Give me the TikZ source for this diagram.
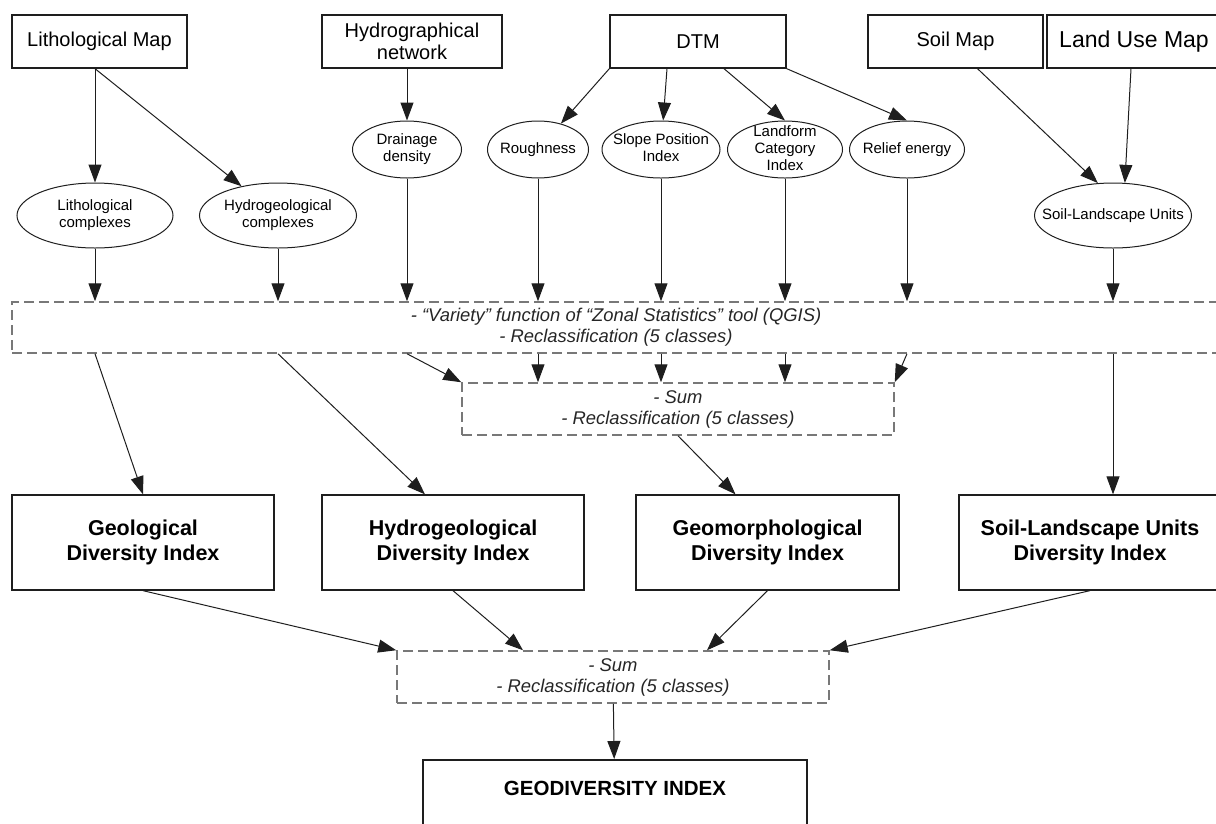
\documentclass[tikz,border=0pt]{standalone}
\usepackage{fontspec}
\setmainfont{Liberation Sans}
\usepackage{tikz}
\usetikzlibrary{shapes.geometric,arrows.meta,calc}
\usepackage{xcolor}
\definecolor{dashgray}{RGB}{120,120,120}
\definecolor{boxline}{RGB}{30,30,30}
\newcommand{\elltext}[1]{\makebox[0pt]{\raisebox{-.25em}[0pt][0pt]{\begin{tabular}{@{}c@{}}#1\end{tabular}}}}

\begin{document}
\begin{tikzpicture}[x=1pt,y=-1pt,
  mapbox/.style={draw=boxline, line width=1.3pt, minimum height=53pt, inner sep=0pt, align=center, font=\fontsize{20}{22}\selectfont},
  layer/.style={ellipse, draw=boxline, line width=1pt, inner sep=0pt, minimum height=57pt, font=\fontsize{15}{17}\selectfont},
  stepnote/.style={draw=dashgray, line width=1.5pt, dash pattern=on 10pt off 5pt, inner sep=0pt, align=center, text=black!85, font=\itshape\fontsize{18.4}{21}\selectfont},
  indexbox/.style={draw=boxline, line width=1.3pt, minimum height=95pt, minimum width=262pt, inner sep=0pt, align=center, font=\bfseries\fontsize{21.5}{25}\selectfont},
  arr/.style={-{Triangle[length=18pt,width=13pt]}, line width=1pt, draw=boxline}]
  \useasboundingbox (0,0) rectangle (1216,823);
  \clip (0,0) rectangle (1216,823);

  % Input maps
  \node[mapbox, minimum width=175pt] (lith) at (99.5,41.5) {Lithological Map};
  \node[mapbox, minimum width=180pt] (hydro) at (412,41.5) {Hydrographical\\network};
  \node[mapbox, minimum width=176pt] (dtm) at (698,41.5) {DTM};
  \node[mapbox, minimum width=175pt] (soil) at (955.5,41.5) {Soil Map};
  \node[mapbox, minimum width=174pt, font=\fontsize{23}{25}\selectfont] (landuse) at (1134,41.5) {Land Use Map};

  % Derived layers
  \node[layer, minimum width=109pt] (drain) at (407,149.5) {\elltext{Drainage\\density}};
  \node[layer, minimum width=101pt] (rough) at (538,149.5) {\elltext{Roughness}};
  \node[layer, minimum width=118pt] (spi) at (661,149.5) {\elltext{Slope Position\\Index}};
  \node[layer, minimum width=115pt] (lci) at (785,149.5) {\elltext{Landform\\Category\\Index}};
  \node[layer, minimum width=115pt] (relief) at (907,149.5) {\elltext{Relief energy}};
  \node[layer, minimum width=156pt, minimum height=65pt] (lithc) at (95,215.5) {\elltext{Lithological\\complexes}};
  \node[layer, minimum width=157pt, minimum height=65pt] (hydc) at (278,215.5) {\elltext{Hydrogeological\\complexes}};
  \node[layer, minimum width=157pt, minimum height=65pt] (slu) at (1113,215.5) {\elltext{Soil-Landscape Units}};

  % Processing steps
  \node[stepnote, minimum width=1208pt, minimum height=51pt] (var) at (616,327.5)
    {- “Variety” function of “Zonal Statistics” tool (QGIS)\\- Reclassification (5 classes)};
  \node[stepnote, minimum width=432pt, minimum height=52pt] (sum1) at (678,409)
    {- Sum\\- Reclassification (5 classes)};
  \node[stepnote, minimum width=432pt, minimum height=52pt] (sum2) at (613,677)
    {- Sum\\- Reclassification (5 classes)};

  % Indices
  \node[indexbox] (geo) at (143,542.5) {Geological\\Diversity Index};
  \node[indexbox] (hyd) at (453,542.5) {Hydrogeological\\Diversity Index};
  \node[indexbox, minimum width=263pt] (geom) at (767.5,542.5) {Geomorphological\\Diversity Index};
  \node[indexbox] (sludi) at (1090,542.5) {Soil-Landscape Units\\Diversity Index};
  \node[draw=boxline, line width=2pt, minimum width=384pt, anchor=north, inner xsep=0pt, inner ysep=20pt,
    text height=15.5pt, text depth=60pt, font=\bfseries\fontsize{20.5}{24}\selectfont] (geodiv) at (615,759) {GEODIVERSITY INDEX};

  % Maps to layers
  \draw[arr] (lithc |- lith.south) -- (lithc);
  \draw[arr] (lithc |- lith.south) -- (hydc);
  \draw[arr] (drain |- hydro.south) -- (drain);
  \draw[arr] (dtm.south west) -- (rough);
  \draw[arr] ([xshift=-31pt]dtm.south) -- (spi);
  \draw[arr] ([xshift=26pt]dtm.south) -- (lci.north);
  \draw[arr] (dtm.south east) -- (relief.north);
  \draw[arr] ([xshift=22pt]soil.south) -- (slu.115);
  \draw[arr] ([xshift=-3pt]landuse.south) -- (slu.70);

  % Layers to variety step
  \foreach \n in {lithc,hydc,drain,rough,spi,lci,relief,slu}
    \draw[arr] (\n) -- (\n |- var.north);

  % Variety step to sums and indices
  \draw[arr] (drain |- var.south) -- (sum1.north west);
  \foreach \n in {rough,spi,lci}
    \draw[arr] (\n |- var.south) -- (\n |- sum1.north);
  \draw[arr] (relief |- var.south) -- (sum1.north east);
  \draw[arr] (lithc |- var.south) -- (geo.north);
  \draw[arr] (hydc |- var.south) -- ([xshift=-28pt]hyd.north);
  \draw[arr] (sum1.south) -- ([xshift=-32pt]geom.north);
  \draw[arr] (slu |- var.south) -- (slu |- sludi.north);

  % Indices to final sum
  \draw[arr] (geo.south) -- (sum2.north west);
  \draw[arr] (hyd.south) -- ([xshift=-90pt]sum2.north);
  \draw[arr] (geom.south) -- ([xshift=94pt]sum2.north);
  \draw[arr] (sludi.south) -- (sum2.north east);
  \draw[arr] (sum2) -- (geodiv);
\end{tikzpicture}
\end{document}
